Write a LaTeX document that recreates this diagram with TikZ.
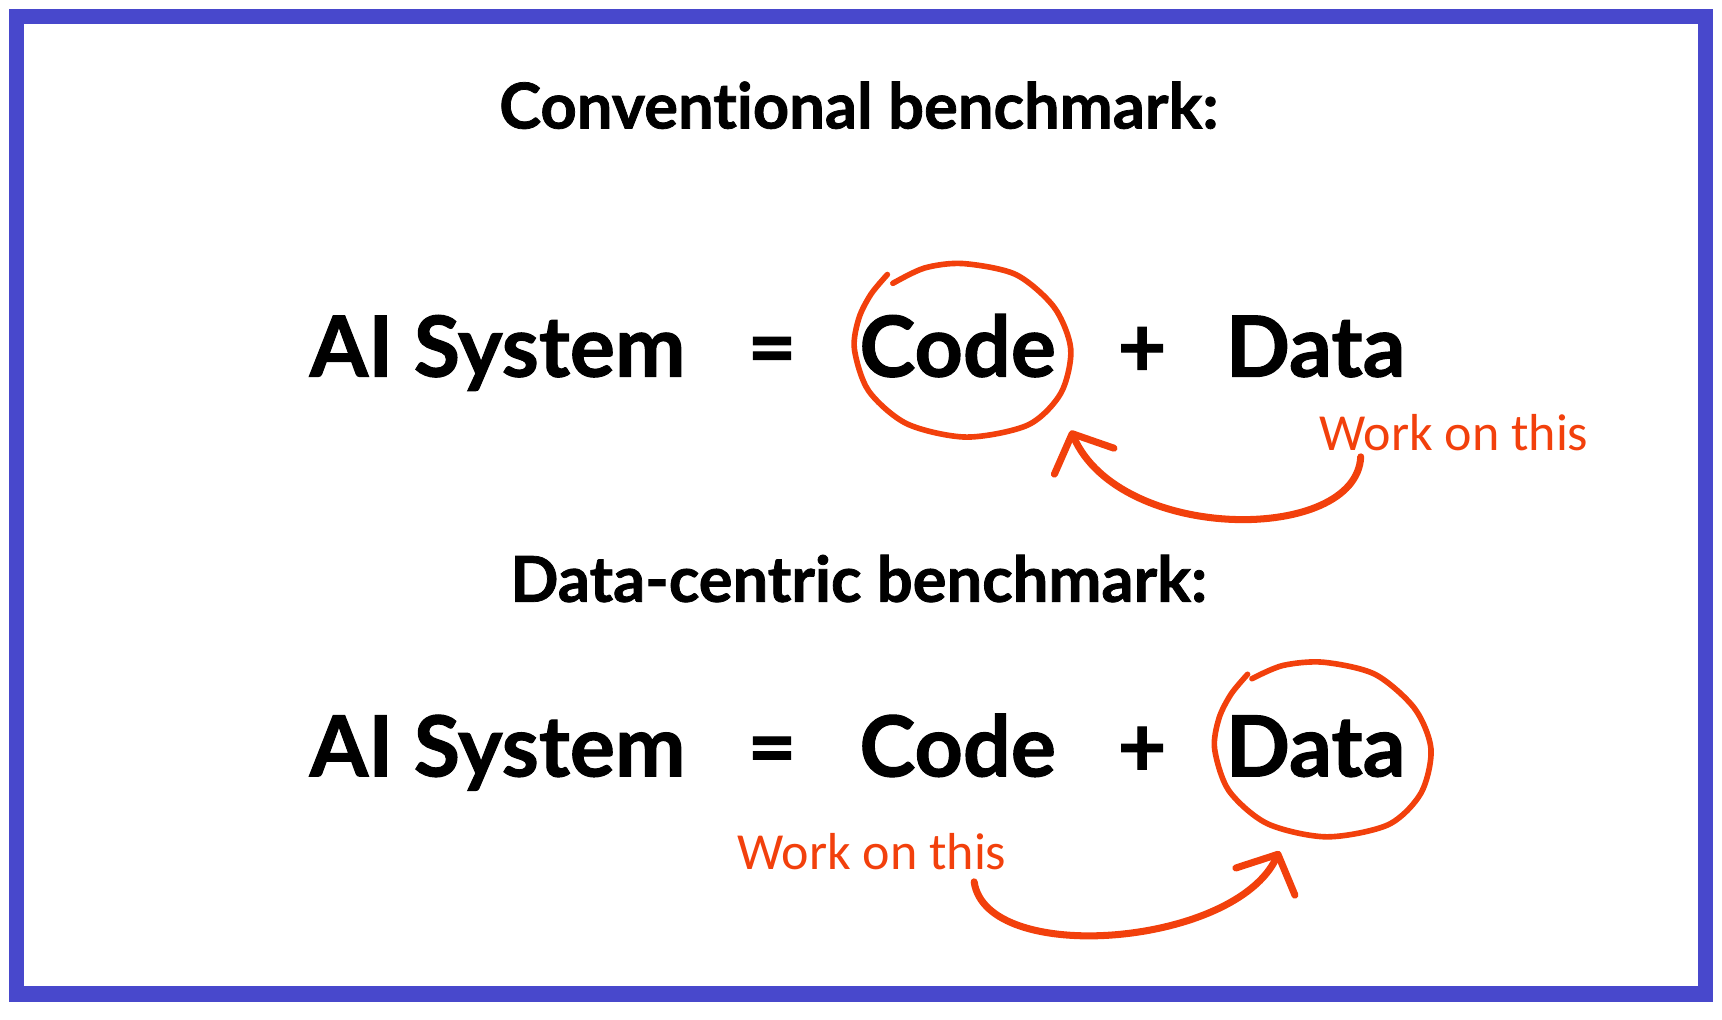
\documentclass[tikz,border=0pt]{standalone}
\usepackage{fontspec}
\setmainfont{Lato}[Ligatures=NoCommon, BoldFeatures={FakeBold=1.2}]
\newfontfamily\notefont{Carlito}
\usetikzlibrary{arrows.meta,calc}
\definecolor{frameblue}{RGB}{72,72,204}
\definecolor{markorange}{RGB}{242,64,12}

\begin{document}
\begin{tikzpicture}[x=0.1098mm,y=-0.1098mm,
		big/.style={inner sep=0pt, anchor=base, font=\fontsize{24}{28}\selectfont\bfseries},
		head/.style={inner sep=0pt, anchor=base, font=\fontsize{18}{22}\selectfont\bfseries},
		note/.style={inner sep=0pt, anchor=base, text=markorange, font=\notefont\fontsize{14.8}{18}\selectfont},
		ring/.style={draw=markorange, line width=1.6pt, line cap=round, line join=round},
		workarrow/.style={draw=markorange, line width=2pt, line cap=round, -{Straight Barb[length=3mm,width=6.5mm,round]}}]
		\useasboundingbox (0,0) rectangle (1568,928);
		\draw[frameblue, line width=1.54mm] (15,15) rectangle (1553,905);

		% conventional
		\node[head] (title1) at (782,117) {Conventional benchmark:};
		\node[big] (sys1) at (453,343) {AI System};
		\node[big] (eq1) at (703,343) {=};
		\node[big] (code1) at (872,343) {Code};
		\node[big] (plus1) at (1040,343) {+};
		\node[big] (data1) at (1198,343) {Data};
		\node[note] (work1) at (1324,410) {Work on this};

		\draw[ring] plot[smooth] coordinates {(813,258) (842,244) (877,240) (925,250) (960,280) (975,318) (966,358) (936,387) (880,398) (826,386) (791,356) (778,318) (782,290) (793,268) (808,250)};
		\coordinate (tip1) at (975,392);
		\draw[workarrow] ($(work1.south west)+(38,5)$) .. controls (1235,495) and (1020,495) .. (tip1);

		% data-centric
		\node[head] (title2) at (782,548) {Data-centric benchmark:};
		\node[big] (sys2) at (453,707) {AI System};
		\node[big] (eq2) at (703,707) {=};
		\node[big] (code2) at (872,707) {Code};
		\node[big] (plus2) at (1040,707) {+};
		\node[big] (data2) at (1198,707) {Data};
		\node[note] (work2) at (794,792) {Work on this};

		\draw[ring] plot[smooth] coordinates {(1140,618) (1168,606) (1205,603) (1252,614) (1288,645) (1303,682) (1294,722) (1264,751) (1208,762) (1154,750) (1119,720) (1106,682) (1110,654) (1121,632) (1136,614)};
		\coordinate (tip2) at (1165,775);
		\draw[workarrow] ($(work2.south west)+(216,10)$) .. controls (898,880) and (1125,862) .. (tip2);
	\end{tikzpicture}
\end{document}
